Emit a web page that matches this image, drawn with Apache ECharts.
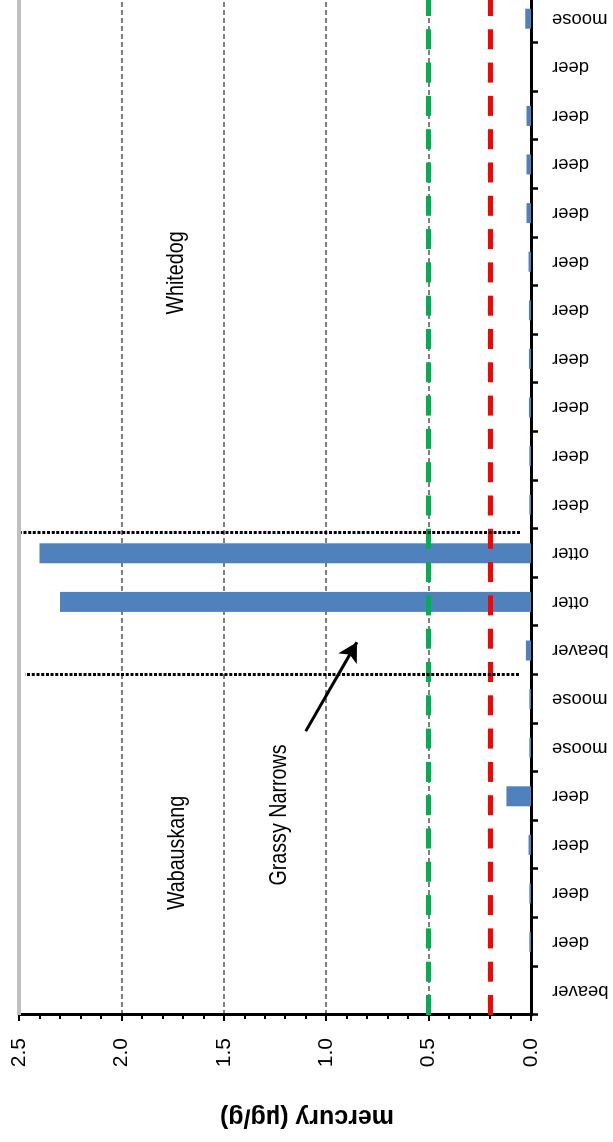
<!DOCTYPE html>
<html>
<head>
<meta charset="utf-8">
<script src="https://cdn.jsdelivr.net/npm/echarts@6/dist/echarts.min.js"></script>
<style>
  html, body { margin: 0; padding: 0; background: #fff; overflow: hidden; width: 613px; height: 1142px; }
  /* The column chart is laid out landscape and turned a quarter turn counter-clockwise. */
  #chart { position: absolute; left: 0; top: 0; width: 1150px; height: 613px;
           transform-origin: 0 0; transform: translate(0, 1142px) rotate(-90deg); }
</style>
</head>
<body>
<div id="chart"></div>
<script>
// Animal sampled at each site, west to east
const categories = ['beaver', 'deer', 'deer', 'deer', 'deer', 'moose', 'moose', 'beaver',
  'otter', 'otter', 'deer', 'deer', 'deer', 'deer', 'deer', 'deer', 'deer', 'deer', 'deer', 'deer', 'moose'];

// Mercury concentration, µg/g
const mercury = [0, 0.008, 0.008, 0.012, 0.12, 0.008, 0.008, 0.025,
  2.30, 2.40, 0.008, 0.008, 0.01, 0.01, 0.01, 0.012, 0.022, 0.022, 0.022, 0, 0.028];

// Value axis range and step
const valueAxisRange = [0, 2.5];
const valueAxisStep = 0.5;

// Guideline levels, µg/g
const guidelineGreen = 0.5;
const guidelineRed = 0.2;

// Dividers between communities: [position on category scale, from value, to value]
const dividers = [[7.0, 0.059, 2.47], [9.92, 0.054, 2.49]];

// Arrow pointing at the Grassy Narrows samples: [category position, value]
const arrowFrom = [5.84, 1.10];
const arrowTo = [7.67, 0.85];

const communityNames = ['Wabauskang', 'Grassy Narrows', 'Whitedog'];

const regular = '"Liberation Sans", Arial, sans-serif';

// Condensed sans lettering for the community names
function communityLabel(name, x, y) {
  return {
    type: 'text', x: x, y: y, scaleX: 0.82, silent: true,
    style: { text: name, fontSize: 24, fontFamily: regular, fill: '#000', align: 'center', verticalAlign: 'middle' }
  };
}

const chart = echarts.init(document.getElementById('chart'), null, { renderer: 'canvas' });

chart.setOption({
  animation: false,
  backgroundColor: '#fff',
  grid: { left: 127, right: 2.4, top: 19, bottom: 82, containLabel: false, outerBoundsMode: 'none' },
  xAxis: [
    {
      type: 'category',
      data: categories,
      position: 'bottom',
      boundaryGap: true,
      axisLine: { show: true, onZero: false, lineStyle: { color: '#000', width: 3 } },
      axisTick: { show: true, length: 7, lineStyle: { color: '#000', width: 2.5 } },
      axisLabel: { interval: 0, rotate: 90, margin: 21, fontSize: 18.5, color: '#000', fontFamily: regular },
      splitLine: { show: false }
    },
    {
      type: 'value',
      min: 0,
      max: categories.length,
      show: false
    }
  ],
  yAxis: {
    type: 'value',
    min: valueAxisRange[0],
    max: valueAxisRange[1],
    interval: valueAxisStep,
    axisLine: { show: true, onZero: false, lineStyle: { color: '#000', width: 3 } },
    axisTick: { show: true, length: 6, lineStyle: { color: '#000', width: 2 } },
    minorTick: { show: true, splitNumber: 5, length: 4, lineStyle: { color: '#000', width: 2 } },
    axisLabel: { formatter: v => v.toFixed(1), margin: 23, fontSize: 21, color: '#000', fontFamily: regular },
    splitLine: { show: true, lineStyle: { color: '#808080', width: 2, type: [5, 3] } }
  },
  series: [
    {
      type: 'bar',
      data: mercury,
      barWidth: 20,
      itemStyle: { color: '#4f81bd' },
      markLine: {
        silent: true,
        symbol: 'none',
        label: { show: false },
        data: [
          { yAxis: valueAxisRange[1], lineStyle: { color: '#c0c0c0', width: 4, type: 'solid' } },
          { yAxis: guidelineGreen, lineStyle: { color: '#00b050', width: 5, type: [20, 13.3] } },
          { yAxis: guidelineRed, lineStyle: { color: '#ff0000', width: 5, type: [20, 13.3] } }
        ]
      }
    },
    {
      type: 'line',
      xAxisIndex: 1,
      data: [],
      markLine: {
        silent: true,
        symbol: 'none',
        label: { show: false },
        lineStyle: { color: '#000', width: 3, type: [3, 1.7] },
        data: dividers.map(d => [{ coord: [d[0], d[1]] }, { coord: [d[0], d[2]] }])
      }
    },
    {
      type: 'line',
      xAxisIndex: 1,
      data: [],
      markLine: {
        silent: true,
        symbol: ['none', 'arrow'],
        symbolSize: [16, 19],
        label: { show: false },
        lineStyle: { color: '#000', width: 3, type: 'solid' },
        data: [[{ coord: arrowFrom }, { coord: arrowTo }]]
      }
    }
  ],
  graphic: [
    communityLabel(communityNames[0], 289, 177),
    communityLabel(communityNames[1], 327, 279),
    communityLabel(communityNames[2], 869, 176),
    { type: 'text', x: 25, y: 307, rotation: Math.PI / 2, silent: true,
      style: { text: 'mercury (µg/g)', fontSize: 25, fontWeight: 'bold', fontFamily: regular, fill: '#000', align: 'center', verticalAlign: 'middle' } }
  ]
});
</script>
</body>
</html>
